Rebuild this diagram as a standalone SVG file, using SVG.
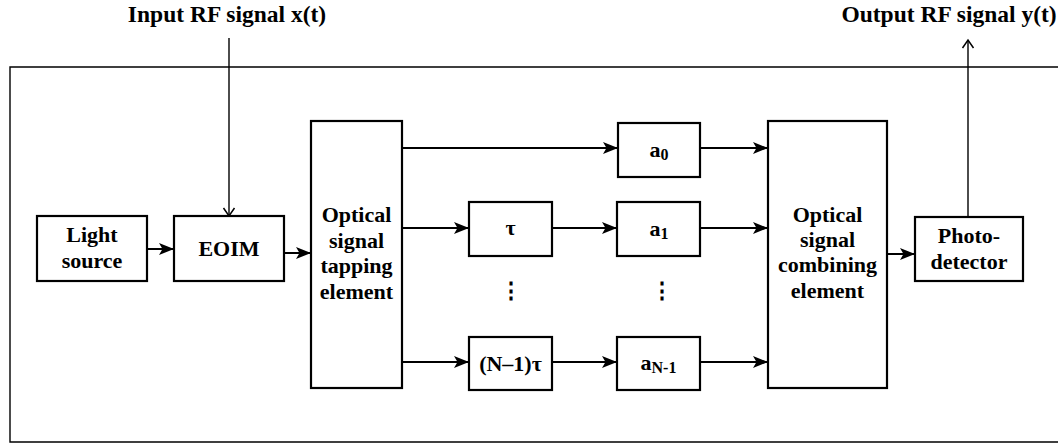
<svg xmlns="http://www.w3.org/2000/svg" width="1058" height="445" viewBox="0 0 1058 445">
<style>
.box{fill:#fff;stroke:#000;stroke-width:2.2}
.t{font-family:"Liberation Serif","Times New Roman",serif;font-weight:bold;font-size:22px;fill:#000;text-anchor:middle}
.h{font-size:23.5px}
.c{fill:none;stroke:#000;stroke-width:2}
.thin{fill:none;stroke:#000;stroke-width:1.4}
</style>
<defs>
<marker id="fa" markerUnits="userSpaceOnUse" markerWidth="16" markerHeight="14" refX="15" refY="7" orient="auto">
<path d="M0,1 L15,7 L0,13 L3.5,7 Z" fill="#000"/>
</marker>
<marker id="oa" markerUnits="userSpaceOnUse" markerWidth="14" markerHeight="14" refX="11" refY="7" orient="auto">
<path d="M3,1.5 L11,7 L3,12.5" fill="none" stroke="#000" stroke-width="1.5"/>
</marker>
</defs>
<rect width="1058" height="445" fill="#fff"/>
<path d="M1058,67 H10 V442 H1058" class="thin"/>
<text class="t h" x="227" y="22">Input RF signal x(t)</text>
<text class="t h" x="949" y="22">Output RF signal y(t)</text>
<g id="connectors">
<line class="thin" x1="229" y1="38" x2="229" y2="216" marker-end="url(#oa)"/>
<line class="thin" x1="968" y1="217" x2="968" y2="40" marker-end="url(#oa)"/>
<line class="c" x1="147" y1="249" x2="174" y2="249" marker-end="url(#fa)"/>
<line class="c" x1="284" y1="253" x2="311" y2="253" marker-end="url(#fa)"/>
<line class="c" x1="402" y1="148" x2="618" y2="148" marker-end="url(#fa)"/>
<line class="c" x1="700" y1="148" x2="768" y2="148" marker-end="url(#fa)"/>
<line class="c" x1="402" y1="228" x2="469" y2="228" marker-end="url(#fa)"/>
<line class="c" x1="552" y1="228" x2="617" y2="228" marker-end="url(#fa)"/>
<line class="c" x1="700" y1="228" x2="768" y2="228" marker-end="url(#fa)"/>
<line class="c" x1="402" y1="362" x2="469" y2="362" marker-end="url(#fa)"/>
<line class="c" x1="552" y1="362" x2="617" y2="362" marker-end="url(#fa)"/>
<line class="c" x1="700" y1="362" x2="768" y2="362" marker-end="url(#fa)"/>
<line class="c" x1="887" y1="254" x2="915" y2="254" marker-end="url(#fa)"/>
</g>
<g id="light">
<rect class="box" x="37" y="216" width="110" height="65"/>
<text class="t" x="92" y="242">Light</text>
<text class="t" x="92" y="268">source</text>
</g>
<g id="eoim">
<rect class="box" x="174" y="216" width="110" height="65"/>
<text class="t" x="229" y="256">EOIM</text>
</g>
<g id="tap">
<rect class="box" x="311" y="121" width="91" height="267"/>
<text class="t" x="356.5" y="222">Optical</text>
<text class="t" x="356.5" y="248">signal</text>
<text class="t" x="356.5" y="273">tapping</text>
<text class="t" x="356.5" y="299">element</text>
</g>
<g id="a0">
<rect class="box" x="618" y="123" width="82" height="54"/>
<text class="t" x="659" y="157">a<tspan font-size="16" dy="3">0</tspan></text>
</g>
<g id="tau">
<rect class="box" x="469" y="202" width="83" height="54"/>
<text class="t" x="510.5" y="235" font-size="19">τ</text>
</g>
<g id="a1">
<rect class="box" x="617" y="202" width="83" height="54"/>
<text class="t" x="659" y="236">a<tspan font-size="16" dy="3">1</tspan></text>
</g>
<g id="dots">
<text class="t" x="511" y="298" font-family="DejaVu Sans" font-size="18">⋮</text>
<text class="t" x="662" y="298" font-family="DejaVu Sans" font-size="18">⋮</text>
</g>
<g id="ntau">
<rect class="box" x="469" y="337" width="83" height="53"/>
<text class="t" x="510.5" y="371" font-size="19">(N–1)τ</text>
</g>
<g id="an1">
<rect class="box" x="617" y="337" width="83" height="53"/>
<text class="t" x="658.5" y="370">a<tspan font-size="16" dy="3">N-1</tspan></text>
</g>
<g id="comb">
<rect class="box" x="768" y="121" width="119" height="267"/>
<text class="t" x="827.5" y="222">Optical</text>
<text class="t" x="827.5" y="247">signal</text>
<text class="t" x="827.5" y="272">combining</text>
<text class="t" x="827.5" y="298">element</text>
</g>
<g id="pd">
<rect class="box" x="915" y="217" width="108" height="64"/>
<text class="t" x="969" y="243">Photo-</text>
<text class="t" x="969" y="269">detector</text>
</g>
</svg>
